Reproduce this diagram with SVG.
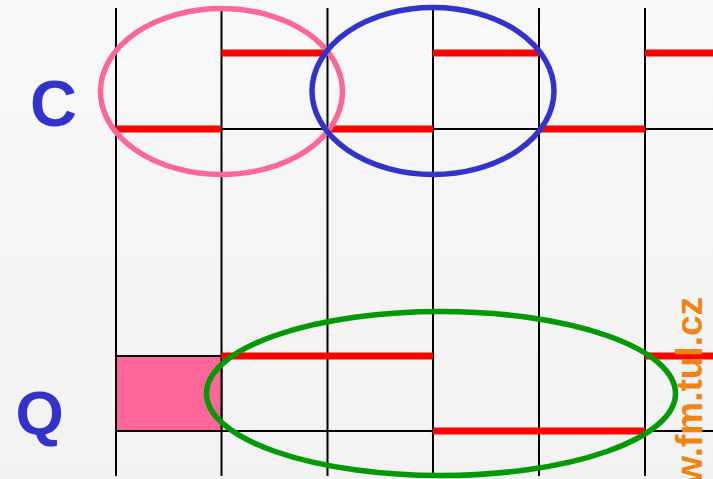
<svg xmlns="http://www.w3.org/2000/svg" width="713" height="479" viewBox="0 0 713 479">
<defs>
<linearGradient id="bg" x1="0" y1="0" x2="0" y2="1">
<stop offset="0" stop-color="#f8f8f8"/>
<stop offset="1" stop-color="#f2f2f2"/>
</linearGradient>
</defs>
<style>
.grid{stroke:#000;stroke-width:2;fill:none}
.sig{stroke:#ff0000;stroke-width:7;fill:none}
.lbl{font-family:"Liberation Sans",Arial,sans-serif;font-weight:bold;fill:#3333cc}
.ell{fill:none;stroke-width:5.5}
</style>
<rect width="713" height="479" fill="url(#bg)"/>
<g id="grid" class="grid">
<line x1="116" y1="8" x2="116" y2="476"/>
<line x1="221.5" y1="8" x2="221.5" y2="476"/>
<line x1="327.5" y1="8" x2="327.5" y2="476"/>
<line x1="433" y1="8" x2="433" y2="476"/>
<line x1="539" y1="8" x2="539" y2="476"/>
<line x1="645" y1="8" x2="645" y2="476"/>
<line x1="116" y1="129" x2="713" y2="129"/>
<line x1="116" y1="431" x2="713" y2="431"/>
</g>
<g id="q-box">
<rect x="116" y="356" width="105.5" height="75" fill="#ff6699" stroke="#000" stroke-width="2"/>
</g>
<g id="signal-c" class="sig">
<line x1="116" y1="129" x2="221.5" y2="129"/>
<line x1="221.5" y1="53" x2="327.5" y2="53"/>
<line x1="327.5" y1="129" x2="433" y2="129"/>
<line x1="433" y1="53" x2="539" y2="53"/>
<line x1="539" y1="129" x2="645" y2="129"/>
<line x1="645" y1="53" x2="713" y2="53"/>
</g>
<g id="signal-q" class="sig">
<line x1="221.5" y1="356" x2="433" y2="356"/>
<line x1="433" y1="431" x2="645" y2="431"/>
<line x1="645" y1="356" x2="713" y2="356"/>
</g>
<g id="label-c"><text class="lbl" x="30" y="126" font-size="65">C</text></g>
<g id="label-q"><text class="lbl" x="15.5" y="434" font-size="62">Q</text></g>
<g id="ellipse-pink"><ellipse class="ell" cx="221.5" cy="91.5" rx="121" ry="83" stroke="#ff6699"/></g>
<g id="ellipse-blue"><ellipse class="ell" cx="433" cy="91" rx="121" ry="83.5" stroke="#3333cc"/></g>
<g id="ellipse-green"><ellipse class="ell" cx="441" cy="393.5" rx="234.5" ry="82" stroke="#009900" stroke-width="6.5"/></g>
<g id="watermark"><text transform="translate(702,297) rotate(-90)" text-anchor="end" font-family="'Liberation Sans',Arial,sans-serif" font-weight="bold" font-size="37" fill="#f08412">www.fm.tul.cz</text></g>
</svg>
